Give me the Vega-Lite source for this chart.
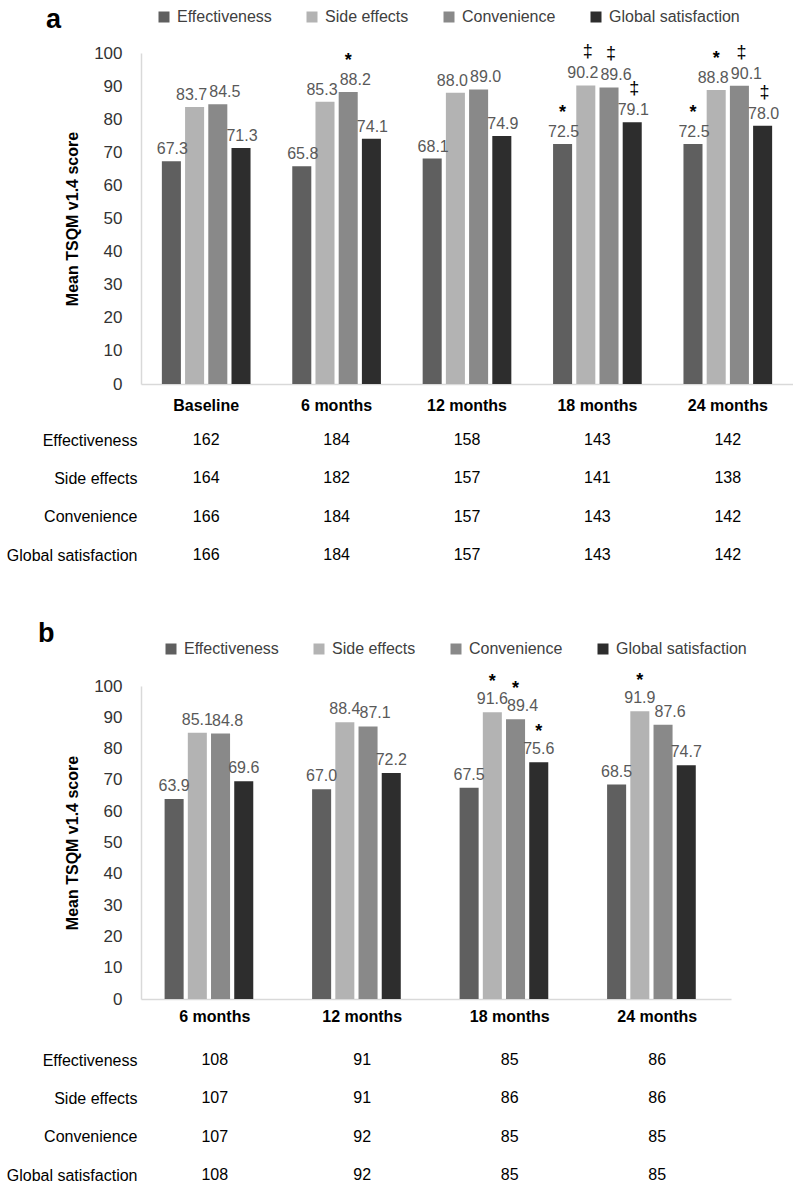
{
  "$schema": "https://vega.github.io/schema/vega-lite/v6.json",
  "padding": {"left": 0, "top": 6, "right": 0, "bottom": 0},
  "config": {
    "font": "Liberation Sans",
    "view": {"stroke": null},
    "axis": {"grid": false, "ticks": false, "domainColor": "#d9d9d9", "domainWidth": 1.5},
    "legend": {"symbolType": "square", "symbolSize": 121, "symbolStrokeWidth": 0, "labelFontSize": 16, "labelColor": "#404040", "labelOffset": 5, "columnPadding": 32}
  },
  "datasets": {
    "scores": [
      {"panel": "a", "time": "Baseline", "measure": "Effectiveness", "score": 67.3, "n": 162, "sig": ""},
      {"panel": "a", "time": "Baseline", "measure": "Side effects", "score": 83.7, "n": 164, "sig": ""},
      {"panel": "a", "time": "Baseline", "measure": "Convenience", "score": 84.5, "n": 166, "sig": ""},
      {"panel": "a", "time": "Baseline", "measure": "Global satisfaction", "score": 71.3, "n": 166, "sig": ""},
      {"panel": "a", "time": "6 months", "measure": "Effectiveness", "score": 65.8, "n": 184, "sig": ""},
      {"panel": "a", "time": "6 months", "measure": "Side effects", "score": 85.3, "n": 182, "sig": ""},
      {"panel": "a", "time": "6 months", "measure": "Convenience", "score": 88.2, "n": 184, "sig": "*"},
      {"panel": "a", "time": "6 months", "measure": "Global satisfaction", "score": 74.1, "n": 184, "sig": ""},
      {"panel": "a", "time": "12 months", "measure": "Effectiveness", "score": 68.1, "n": 158, "sig": ""},
      {"panel": "a", "time": "12 months", "measure": "Side effects", "score": 88.0, "n": 157, "sig": ""},
      {"panel": "a", "time": "12 months", "measure": "Convenience", "score": 89.0, "n": 157, "sig": ""},
      {"panel": "a", "time": "12 months", "measure": "Global satisfaction", "score": 74.9, "n": 157, "sig": ""},
      {"panel": "a", "time": "18 months", "measure": "Effectiveness", "score": 72.5, "n": 143, "sig": "*"},
      {"panel": "a", "time": "18 months", "measure": "Side effects", "score": 90.2, "n": 141, "sig": "‡"},
      {"panel": "a", "time": "18 months", "measure": "Convenience", "score": 89.6, "n": 143, "sig": "‡"},
      {"panel": "a", "time": "18 months", "measure": "Global satisfaction", "score": 79.1, "n": 143, "sig": "‡"},
      {"panel": "a", "time": "24 months", "measure": "Effectiveness", "score": 72.5, "n": 142, "sig": "*"},
      {"panel": "a", "time": "24 months", "measure": "Side effects", "score": 88.8, "n": 138, "sig": "*"},
      {"panel": "a", "time": "24 months", "measure": "Convenience", "score": 90.1, "n": 142, "sig": "‡"},
      {"panel": "a", "time": "24 months", "measure": "Global satisfaction", "score": 78.0, "n": 142, "sig": "‡"},
      {"panel": "b", "time": "6 months", "measure": "Effectiveness", "score": 63.9, "n": 108, "sig": ""},
      {"panel": "b", "time": "6 months", "measure": "Side effects", "score": 85.1, "n": 107, "sig": ""},
      {"panel": "b", "time": "6 months", "measure": "Convenience", "score": 84.8, "n": 107, "sig": ""},
      {"panel": "b", "time": "6 months", "measure": "Global satisfaction", "score": 69.6, "n": 108, "sig": ""},
      {"panel": "b", "time": "12 months", "measure": "Effectiveness", "score": 67.0, "n": 91, "sig": ""},
      {"panel": "b", "time": "12 months", "measure": "Side effects", "score": 88.4, "n": 91, "sig": ""},
      {"panel": "b", "time": "12 months", "measure": "Convenience", "score": 87.1, "n": 92, "sig": ""},
      {"panel": "b", "time": "12 months", "measure": "Global satisfaction", "score": 72.2, "n": 92, "sig": ""},
      {"panel": "b", "time": "18 months", "measure": "Effectiveness", "score": 67.5, "n": 85, "sig": ""},
      {"panel": "b", "time": "18 months", "measure": "Side effects", "score": 91.6, "n": 86, "sig": "*"},
      {"panel": "b", "time": "18 months", "measure": "Convenience", "score": 89.4, "n": 85, "sig": "*"},
      {"panel": "b", "time": "18 months", "measure": "Global satisfaction", "score": 75.6, "n": 85, "sig": "*"},
      {"panel": "b", "time": "24 months", "measure": "Effectiveness", "score": 68.5, "n": 86, "sig": ""},
      {"panel": "b", "time": "24 months", "measure": "Side effects", "score": 91.9, "n": 86, "sig": "*"},
      {"panel": "b", "time": "24 months", "measure": "Convenience", "score": 87.6, "n": 85, "sig": ""},
      {"panel": "b", "time": "24 months", "measure": "Global satisfaction", "score": 74.7, "n": 85, "sig": ""}
    ]
  },
  "resolve": {"scale": {"color": "independent"}, "legend": {"color": "independent"}},
  "spacing": 57,
  "vconcat": [
    {
      "spacing": 19,
      "resolve": {"scale": {"color": "independent"}, "legend": {"color": "independent"}},
      "vconcat": [
        {
          "width": 652,
          "height": 331,
          "title": {"text": "a", "anchor": "start", "frame": "group", "dx": -95, "offset": -46, "baseline": "alphabetic", "fontSize": 27, "fontWeight": "bold", "color": "#000"},
          "data": {"name": "scores"},
          "transform": [{"filter": "datum.panel == 'a'"}],
          "encoding": {
            "x": {"field": "time", "type": "nominal", "sort": ["Baseline", "6 months", "12 months", "18 months", "24 months"], "scale": {"paddingInner": 0.32, "paddingOuter": 0.16},
                  "axis": {"title": null, "labelAngle": 0, "labelFontSize": 16, "labelFontWeight": "bold", "labelColor": "#000", "labelPadding": 13}},
            "xOffset": {"field": "measure", "type": "nominal", "sort": ["Effectiveness", "Side effects", "Convenience", "Global satisfaction"], "scale": {"paddingInner": 0.18, "paddingOuter": 0}},
            "y": {"field": "score", "type": "quantitative", "scale": {"domain": [0, 100]},
                  "axis": {"values": [0, 10, 20, 30, 40, 50, 60, 70, 80, 90, 100], "title": "Mean TSQM v1.4 score", "titleFontSize": 16, "titleFontWeight": "bold", "titleColor": "#000", "titlePadding": 13, "labelFontSize": 17, "labelColor": "#333", "labelPadding": 19, "minExtent": 48}}
          },
          "layer": [
            {"mark": {"type": "bar"},
             "encoding": {"color": {"field": "measure", "type": "nominal",
               "scale": {"domain": ["Effectiveness", "Side effects", "Convenience", "Global satisfaction"], "range": ["#5f5f5f", "#b3b3b3", "#898989", "#2d2d2d"]},
               "legend": {"title": null, "orient": "none", "direction": "horizontal", "legendX": 15, "legendY": -44}}}},
            {"transform": [{"filter": "datum.measure == 'Effectiveness' || datum.measure == 'Global satisfaction'"}],
             "mark": {"type": "text", "baseline": "bottom", "dy": -4, "dx": 1, "fontSize": 16, "color": "#595959"},
             "encoding": {"text": {"field": "score", "type": "quantitative", "format": ".1f"}}},
            {"transform": [{"filter": "datum.measure == 'Side effects'"}],
             "mark": {"type": "text", "baseline": "bottom", "dy": -4, "dx": -3, "fontSize": 16, "color": "#595959"},
             "encoding": {"text": {"field": "score", "type": "quantitative", "format": ".1f"}}},
            {"transform": [{"filter": "datum.measure == 'Convenience'"}],
             "mark": {"type": "text", "baseline": "bottom", "dy": -4, "dx": 7, "fontSize": 16, "color": "#595959"},
             "encoding": {"text": {"field": "score", "type": "quantitative", "format": ".1f"}}},
            {"transform": [{"filter": "datum.sig == '*'"}],
             "mark": {"type": "text", "baseline": "bottom", "dy": -22, "fontSize": 18, "fontWeight": "bold", "color": "#000"},
             "encoding": {"text": {"field": "sig"}}},
            {"transform": [{"filter": "datum.sig == '‡'"}],
             "mark": {"type": "text", "baseline": "bottom", "dy": -24, "dx": 2, "fontSize": 18, "color": "#000"},
             "encoding": {"text": {"field": "sig"}}}
          ]
        },
        {
          "width": 652,
          "height": 115,
          "data": {"name": "scores"},
          "transform": [{"filter": "datum.panel == 'a'"}],
          "mark": {"type": "text", "fontSize": 16, "color": "#000", "baseline": "middle"},
          "encoding": {
            "x": {"field": "time", "type": "nominal", "sort": ["Baseline", "6 months", "12 months", "18 months", "24 months"], "scale": {"paddingInner": 0.32, "paddingOuter": 0.16}, "axis": null},
            "y": {"field": "measure", "type": "nominal", "sort": ["Effectiveness", "Side effects", "Convenience", "Global satisfaction"], "scale": {"type": "point", "padding": 0},
                  "axis": {"title": null, "domain": false, "ticks": false, "labelFontSize": 16, "labelColor": "#000", "labelPadding": 4, "minExtent": 141}},
            "text": {"field": "n", "type": "quantitative"}
          }
        }
      ]
    },
    {
      "spacing": 28,
      "resolve": {"scale": {"color": "independent"}, "legend": {"color": "independent"}},
      "vconcat": [
        {
          "width": 590,
          "height": 313,
          "title": {"text": "b", "anchor": "start", "frame": "group", "dx": -103, "offset": -28, "baseline": "alphabetic", "fontSize": 27, "fontWeight": "bold", "color": "#000"},
          "data": {"name": "scores"},
          "transform": [{"filter": "datum.panel == 'b'"}],
          "encoding": {
            "x": {"field": "time", "type": "nominal", "sort": ["6 months", "12 months", "18 months", "24 months"], "scale": {"paddingInner": 0.32, "paddingOuter": 0.16},
                  "axis": {"title": null, "labelAngle": 0, "labelFontSize": 16, "labelFontWeight": "bold", "labelColor": "#000", "labelPadding": 9}},
            "xOffset": {"field": "measure", "type": "nominal", "sort": ["Effectiveness", "Side effects", "Convenience", "Global satisfaction"], "scale": {"paddingInner": 0.2, "paddingOuter": 0}},
            "y": {"field": "score", "type": "quantitative", "scale": {"domain": [0, 100]},
                  "axis": {"values": [0, 10, 20, 30, 40, 50, 60, 70, 80, 90, 100], "title": "Mean TSQM v1.4 score", "titleFontSize": 16, "titleFontWeight": "bold", "titleColor": "#000", "titlePadding": 13, "labelFontSize": 17, "labelColor": "#333", "labelPadding": 19, "minExtent": 48}}
          },
          "layer": [
            {"mark": {"type": "bar"},
             "encoding": {"color": {"field": "measure", "type": "nominal",
               "scale": {"domain": ["Effectiveness", "Side effects", "Convenience", "Global satisfaction"], "range": ["#5f5f5f", "#b3b3b3", "#898989", "#2d2d2d"]},
               "legend": {"title": null, "orient": "none", "direction": "horizontal", "legendX": 22, "legendY": -45}}}},
            {"transform": [{"filter": "datum.measure == 'Effectiveness' || datum.measure == 'Global satisfaction'"}],
             "mark": {"type": "text", "baseline": "bottom", "dy": -5, "fontSize": 16, "color": "#595959"},
             "encoding": {"text": {"field": "score", "type": "quantitative", "format": ".1f"}}},
            {"transform": [{"filter": "datum.measure == 'Side effects'"}],
             "mark": {"type": "text", "baseline": "bottom", "dy": -5, "dx": 0, "fontSize": 16, "color": "#595959"},
             "encoding": {"text": {"field": "score", "type": "quantitative", "format": ".1f"}}},
            {"transform": [{"filter": "datum.measure == 'Convenience'"}],
             "mark": {"type": "text", "baseline": "bottom", "dy": -5, "dx": 7, "fontSize": 16, "color": "#595959"},
             "encoding": {"text": {"field": "score", "type": "quantitative", "format": ".1f"}}},
            {"transform": [{"filter": "datum.sig == '*'"}],
             "mark": {"type": "text", "baseline": "bottom", "dy": -21, "fontSize": 18, "fontWeight": "bold", "color": "#000"},
             "encoding": {"text": {"field": "sig"}}}
          ]
        },
        {
          "width": 590,
          "height": 115,
          "data": {"name": "scores"},
          "transform": [{"filter": "datum.panel == 'b'"}],
          "mark": {"type": "text", "fontSize": 16, "color": "#000", "baseline": "middle"},
          "encoding": {
            "x": {"field": "time", "type": "nominal", "sort": ["6 months", "12 months", "18 months", "24 months"], "scale": {"paddingInner": 0.32, "paddingOuter": 0.16}, "axis": null},
            "y": {"field": "measure", "type": "nominal", "sort": ["Effectiveness", "Side effects", "Convenience", "Global satisfaction"], "scale": {"type": "point", "padding": 0},
                  "axis": {"title": null, "domain": false, "ticks": false, "labelFontSize": 16, "labelColor": "#000", "labelPadding": 4, "minExtent": 141}},
            "text": {"field": "n", "type": "quantitative"}
          }
        }
      ]
    }
  ]
}
